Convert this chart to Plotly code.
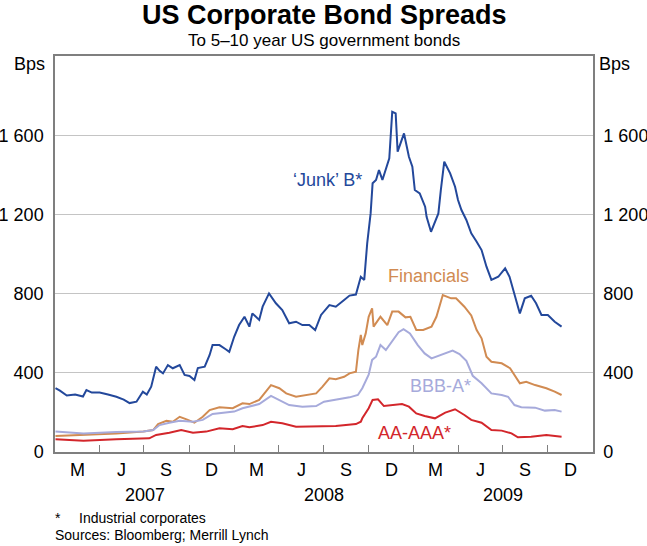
import plotly.graph_objects as go
import pandas as pd

# ---------------- data (bps) ----------------
junk_dates = [
    "2007-01-02", "2007-01-11", "2007-01-25", "2007-02-11", "2007-02-27", "2007-03-06",
    "2007-03-17", "2007-04-02", "2007-04-19", "2007-05-06", "2007-05-21", "2007-06-02",
    "2007-06-16", "2007-06-29", "2007-07-07", "2007-07-16", "2007-07-26", "2007-08-02",
    "2007-08-09", "2007-08-19", "2007-08-29", "2007-09-12", "2007-09-22", "2007-10-02",
    "2007-10-12", "2007-10-19", "2007-11-02", "2007-11-12", "2007-11-18", "2007-12-02",
    "2007-12-14", "2007-12-22", "2008-01-01", "2008-01-11", "2008-01-22", "2008-02-01",
    "2008-02-07", "2008-02-21", "2008-02-28", "2008-03-12", "2008-03-26", "2008-04-08",
    "2008-04-22", "2008-05-06", "2008-05-19", "2008-06-02", "2008-06-14", "2008-06-26",
    "2008-07-13", "2008-07-26", "2008-08-12", "2008-08-23", "2008-09-05", "2008-09-15",
    "2008-09-22", "2008-09-28", "2008-10-05", "2008-10-09", "2008-10-16", "2008-10-22",
    "2008-10-29", "2008-11-05", "2008-11-12", "2008-11-18", "2008-11-25", "2008-11-29",
    "2008-12-05", "2008-12-12", "2008-12-22", "2008-12-29", "2009-01-03", "2009-01-13",
    "2009-01-24", "2009-01-27", "2009-02-05", "2009-02-13", "2009-02-20", "2009-02-25",
    "2009-03-04", "2009-03-16", "2009-03-26", "2009-04-01", "2009-04-08", "2009-04-18",
    "2009-04-28", "2009-05-09", "2009-05-19", "2009-05-29", "2009-06-08", "2009-06-22",
    "2009-07-06", "2009-07-15", "2009-07-25", "2009-08-05", "2009-08-15", "2009-08-28",
    "2009-09-07", "2009-09-18", "2009-10-01", "2009-10-15", "2009-10-29",
]
junk_values = [
    323, 310, 285, 290, 280, 313,
    300, 300, 290, 279, 265, 247,
    254, 305, 290, 330, 431, 410,
    397, 439, 423, 439, 389, 384,
    364, 424, 431, 490, 540, 540,
    520, 506, 582, 641, 683, 633,
    700, 667, 734, 801, 751, 717,
    650, 658, 641, 641, 616, 692,
    742, 734, 768, 790, 795, 885,
    869, 1054, 1205, 1357, 1374, 1424,
    1374, 1424, 1483, 1718, 1710, 1517,
    1559, 1609, 1491, 1441, 1323, 1306,
    1239, 1188, 1112, 1163, 1205, 1323,
    1466, 1407, 1340, 1273, 1222, 1172,
    1104, 1062, 1020, 936, 869, 885,
    928, 885, 801, 700, 776, 789,
    751, 692, 692, 658, 633,
]

fin_dates = [
    "2007-01-02", "2007-02-28", "2007-05-06", "2007-06-30", "2007-07-20", "2007-07-30",
    "2007-08-16", "2007-08-29", "2007-09-12", "2007-09-26", "2007-10-12", "2007-10-29",
    "2007-11-12", "2007-12-02", "2007-12-29", "2008-01-18", "2008-02-01", "2008-02-21",
    "2008-03-06", "2008-03-16", "2008-04-02", "2008-04-16", "2008-05-06", "2008-05-26",
    "2008-06-16", "2008-06-29", "2008-07-13", "2008-07-26", "2008-08-12", "2008-08-23",
    "2008-09-05", "2008-09-10", "2008-09-15", "2008-09-18", "2008-09-25", "2008-10-01",
    "2008-10-08", "2008-10-11", "2008-10-25", "2008-11-08", "2008-11-18", "2008-12-01",
    "2008-12-15", "2008-12-25", "2009-01-06", "2009-01-20", "2009-02-06", "2009-02-16",
    "2009-03-01", "2009-03-18", "2009-03-28", "2009-04-14", "2009-04-28", "2009-05-09",
    "2009-05-19", "2009-05-29", "2009-06-08", "2009-06-29", "2009-07-16", "2009-08-05",
    "2009-08-18", "2009-09-05", "2009-09-28", "2009-10-15", "2009-10-29",
]
fin_values = [
    81, 86, 94, 103, 111, 141,
    158, 153, 178, 165, 148, 178,
    212, 226, 221, 246, 242, 263,
    305, 338, 322, 296, 279, 288,
    296, 330, 372, 367, 380, 397,
    405, 515, 591, 540, 599, 683,
    726, 633, 683, 641, 709, 709,
    680, 683, 616, 616, 633, 683,
    793, 776, 776, 734, 690, 616,
    574, 481, 456, 448, 423, 347,
    355, 338, 322, 305, 288,
]

bbb_dates = [
    "2007-01-02", "2007-02-28", "2007-05-06", "2007-06-30", "2007-07-20", "2007-08-02",
    "2007-08-22", "2007-09-12", "2007-10-09", "2007-10-29", "2007-11-18", "2007-12-15",
    "2008-01-01", "2008-01-18", "2008-02-01", "2008-02-21", "2008-03-16", "2008-04-02",
    "2008-04-22", "2008-05-19", "2008-06-16", "2008-07-02", "2008-07-26", "2008-08-23",
    "2008-09-09", "2008-09-18", "2008-10-01", "2008-10-08", "2008-10-16", "2008-10-25",
    "2008-11-05", "2008-11-18", "2008-12-01", "2008-12-11", "2008-12-24", "2009-01-09",
    "2009-01-23", "2009-02-06", "2009-02-26", "2009-03-21", "2009-04-04", "2009-04-18",
    "2009-05-01", "2009-05-19", "2009-06-08", "2009-06-29", "2009-07-12", "2009-07-25",
    "2009-08-08", "2009-09-05", "2009-09-25", "2009-10-15", "2009-10-29",
]
bbb_values = [
    103, 94, 101, 103, 111, 136,
    148, 158, 153, 162, 192, 199,
    204, 221, 229, 242, 283, 263,
    237, 229, 232, 254, 263, 276,
    288, 322, 390, 465, 481, 540,
    515, 557, 605, 620, 599, 540,
    498, 473, 490, 512, 495, 460,
    385, 347, 296, 288, 279, 237,
    226, 224, 209, 212, 204,
]

aa_dates = [
    "2007-01-02", "2007-02-28", "2007-05-06", "2007-07-12", "2007-07-26", "2007-08-22",
    "2007-09-15", "2007-10-09", "2007-11-05", "2007-12-02", "2007-12-29", "2008-01-18",
    "2008-02-01", "2008-02-28", "2008-03-16", "2008-04-08", "2008-05-06", "2008-06-16",
    "2008-07-26", "2008-09-05", "2008-09-15", "2008-09-18", "2008-09-28", "2008-10-01",
    "2008-10-09", "2008-10-20", "2008-11-01", "2008-11-18", "2008-12-08", "2008-12-22",
    "2009-01-06", "2009-01-23", "2009-02-13", "2009-03-06", "2009-03-26", "2009-04-14",
    "2009-04-28", "2009-05-19", "2009-06-08", "2009-06-29", "2009-07-19", "2009-08-01",
    "2009-08-28", "2009-09-28", "2009-10-29",
]
aa_values = [
    64, 57, 64, 69, 86, 97,
    111, 97, 103, 120, 115, 131,
    125, 136, 153, 145, 128, 128,
    131, 141, 153, 170, 205, 221,
    263, 266, 232, 238, 242, 229,
    195, 182, 170, 199, 216, 187,
    162, 148, 111, 108, 94, 74,
    77, 86, 77,
]

years = [2007, 2008, 2009]
quarter_labels = ["M", "J", "S", "D"]
y_ticks = [0, 400, 800, 1200, 1600]

series_names = ["‘Junk’ B*", "Financials", "BBB-A*", "AA-AAA*"]
label_dates = ["2008-07-10", "2009-01-30", "2009-02-24", "2009-01-03"]
label_values = [1372, 889, 333, 96]

# ---------------- styling ----------------
FONT = "Liberation Sans, Arial, sans-serif"
colors = ["#23489B", "#D18B52", "#A6AADB", "#D3262B"]
FRAME = "#7F7F7F"
GRID = "#C4C4C4"

fig = go.Figure()
all_series = [
    (junk_dates, junk_values),
    (fin_dates, fin_values),
    (bbb_dates, bbb_values),
    (aa_dates, aa_values),
]
for (d, v), name, c in zip(all_series, series_names, colors):
    fig.add_trace(go.Scatter(x=pd.to_datetime(d), y=v, mode="lines", name=name,
                             line=dict(color=c, width=2), showlegend=False))

# dummy trace to materialise the right-hand axis
fig.add_trace(go.Scatter(x=[None], y=[None], yaxis="y2", showlegend=False, hoverinfo="skip"))

start = pd.Timestamp(f"{years[0]}-01-01")
end = pd.Timestamp(f"{years[-1] + 1}-01-01")

fig.update_layout(
    width=647, height=546,
    margin=dict(l=55, r=54, t=56, b=94, pad=0, autoexpand=False),
    paper_bgcolor="white", plot_bgcolor="white",
    separators=". ",
    font=dict(family=FONT, size=18, color="black"),
    xaxis=dict(
        type="date", range=[start, end], automargin=False,
        showgrid=False, zeroline=False,
        showline=True, linecolor=FRAME, linewidth=1.5, mirror=True,
        tickmode="linear", tick0=start, dtick="M3",
        ticks="inside", ticklen=7, tickwidth=1, tickcolor=FRAME,
        showticklabels=False,
    ),
    yaxis=dict(
        range=[0, 2000], tickmode="array", tickvals=y_ticks, automargin=False,
        separatethousands=True,
        showgrid=True, gridcolor=GRID, gridwidth=1,
        zeroline=False, showline=True, linecolor=FRAME, linewidth=1.5,
        ticks="", ticklabelstandoff=6,
        tickfont=dict(family=FONT, size=18),
    ),
    yaxis2=dict(
        range=[0, 2000], tickmode="array", tickvals=y_ticks, automargin=False,
        separatethousands=True,
        overlaying="y", side="right", showgrid=False,
        zeroline=False, showline=True, linecolor=FRAME, linewidth=1.5,
        ticks="", ticklabelstandoff=5,
        tickfont=dict(family=FONT, size=18),
    ),
)

ann = []
ann.append(dict(text="<b>US Corporate Bond Spreads</b>", xref="paper", yref="paper",
                x=0.5, y=1, yshift=41, xanchor="center", yanchor="middle",
                showarrow=False, font=dict(family=FONT, size=27, color="black")))
ann.append(dict(text="To 5–10 year US government bonds", xref="paper", yref="paper",
                x=0.5, y=1, yshift=16, xanchor="center", yanchor="middle",
                showarrow=False, font=dict(family=FONT, size=17, color="black")))
ann.append(dict(text="Bps", xref="paper", yref="paper", x=0, y=1, xshift=-8, yshift=-8,
                xanchor="right", yanchor="middle", showarrow=False,
                font=dict(family=FONT, size=18)))
ann.append(dict(text="Bps", xref="paper", yref="paper", x=1, y=1, xshift=4, yshift=-8,
                xanchor="left", yanchor="middle", showarrow=False,
                font=dict(family=FONT, size=18)))
for yr in years:
    for q, lab in enumerate(quarter_labels):
        q0 = pd.Timestamp(year=yr, month=3 * q + 1, day=1)
        q1 = q0 + pd.DateOffset(months=3)
        mid = q0 + (q1 - q0) / 2
        ann.append(dict(text=lab, xref="x", yref="paper", x=mid, y=0, yshift=-18,
                        xanchor="center", yanchor="middle", showarrow=False,
                        font=dict(family=FONT, size=18)))
    y0 = max(pd.Timestamp(year=yr, month=1, day=1), start)
    y1 = min(pd.Timestamp(year=yr + 1, month=1, day=1), end)
    ann.append(dict(text=str(yr), xref="x", yref="paper", x=y0 + (y1 - y0) / 2, y=0,
                    yshift=-43, xanchor="center", yanchor="middle", showarrow=False,
                    font=dict(family=FONT, size=18)))
for name, d, v, c in zip(series_names, label_dates, label_values, colors):
    ann.append(dict(text=name, xref="x", yref="y", x=pd.Timestamp(d), y=v,
                    xanchor="center", yanchor="middle", showarrow=False,
                    font=dict(family=FONT, size=18, color=c)))
ann.append(dict(text="*", xref="paper", yref="paper", x=0, y=0, xshift=-2, yshift=-66,
                xanchor="left", yanchor="middle", showarrow=False,
                font=dict(family=FONT, size=14)))
ann.append(dict(text="Industrial corporates", xref="paper", yref="paper", x=0, y=0,
                xshift=22, yshift=-66, xanchor="left", yanchor="middle", showarrow=False,
                font=dict(family=FONT, size=14)))
ann.append(dict(text="Sources: Bloomberg; Merrill Lynch", xref="paper", yref="paper",
                x=0, y=0, xshift=-2, yshift=-83, xanchor="left", yanchor="middle",
                showarrow=False, font=dict(family=FONT, size=14)))
fig.update_layout(annotations=ann)

# remove the default 8px page margin so the figure sits at the window's top-left
fig.write_html("out.html",
               config={"displayModeBar": False},
               post_script="document.body.style.margin='0';document.body.style.overflow='hidden';")
